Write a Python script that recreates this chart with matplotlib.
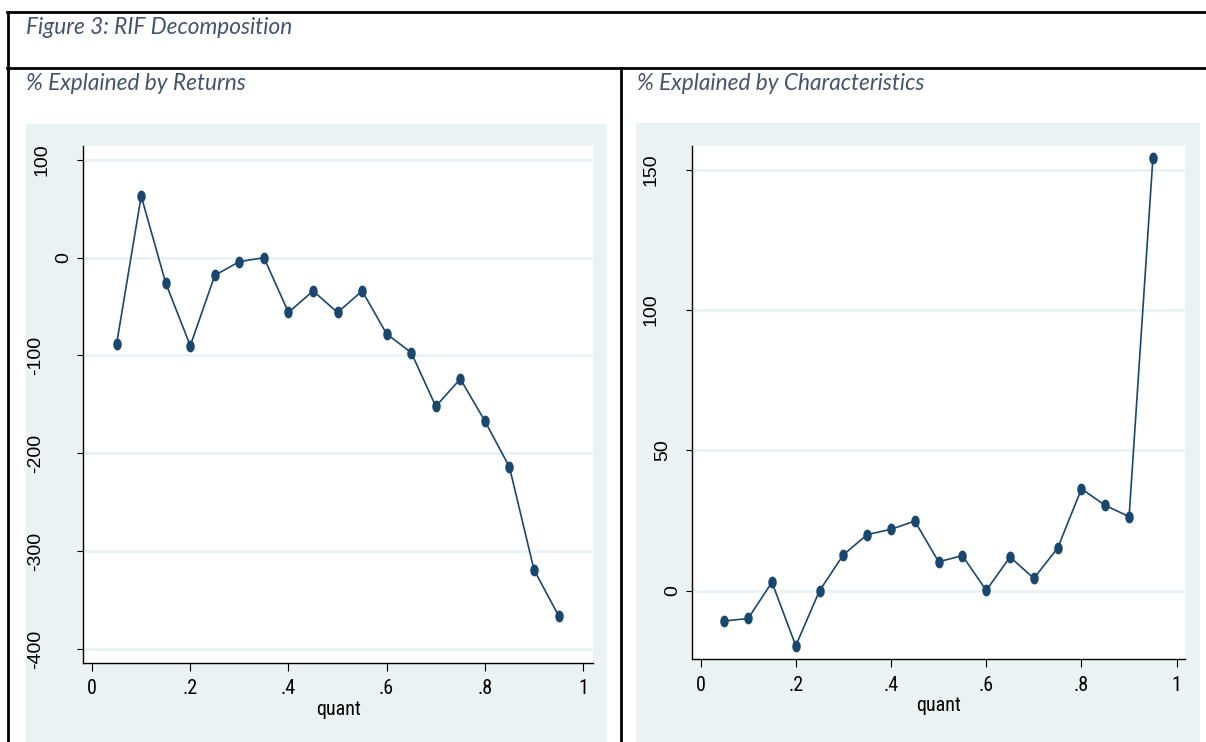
import numpy as np
import matplotlib
matplotlib.use('Agg')
import matplotlib.pyplot as plt
from matplotlib import font_manager
from matplotlib.font_manager import FontProperties
from matplotlib.patches import Rectangle
from matplotlib.lines import Line2D
from matplotlib.transforms import blended_transform_factory

# ---------------- data ----------------
quant = [0.05, 0.10, 0.15, 0.20, 0.25, 0.30, 0.35, 0.40, 0.45, 0.50,
         0.55, 0.60, 0.65, 0.70, 0.75, 0.80, 0.85, 0.90, 0.95]
returns_pct = [-88, 63, -26, -90, -18, -4, 0, -56, -34, -56,
               -34, -78, -97, -152, -124, -167, -214, -319, -366]
chars_pct = [-10.8, -9.9, 3.0, -19.6, 0.0, 12.8, 20.0, 21.9, 24.8, 10.3,
             12.5, 0.1, 12.0, 4.4, 15.2, 36.3, 30.4, 26.4, 154.2]

x_ticks = [0, 0.2, 0.4, 0.6, 0.8, 1.0]
x_ticklabels = ['0', '.2', '.4', '.6', '.8', '1']
left_yticks = [100, 0, -100, -200, -300, -400]
right_yticks = [150, 100, 50, 0]

fig_title = 'Figure 3: RIF Decomposition'
left_title = '% Explained by Returns'
right_title = '% Explained by Characteristics'
x_label = 'quant'

# ---------------- style ----------------
W, H = 1206, 742
NAVY = '#1a476f'
BG = '#eaf2f3'
TXT = '#44546a'

ttf = font_manager.fontManager.ttflist
names = {f.name for f in ttf}
title_font = 'Lato' if 'Lato' in names else 'DejaVu Sans'

# a narrow sans for the x axis texts, if one is installed
narrow_fp = None
for nm in ['Liberation Sans Narrow', 'Arial Narrow', 'Roboto Condensed',
           'DejaVu Sans Condensed', 'Open Sans Condensed']:
    if nm in names:
        narrow_fp = FontProperties(family=nm)
        break
if narrow_fp is None:
    cands = [f for f in ttf if str(f.stretch) in ('condensed', 'semi-condensed', 'extra-condensed')
             and f.style == 'normal' and str(f.weight) in ('400', 'normal', 'regular')
             and 'Sans' in f.name and 'Mono' not in f.name and 'CJK' not in f.name]
    cands.sort(key=lambda f: f.fname)
    if cands:
        narrow_fp = FontProperties(fname=cands[0].fname)
    else:
        narrow_fp = FontProperties(family='Liberation Sans')

fig = plt.figure(figsize=(W / 100, H / 100), dpi=100)
fig.patch.set_facecolor('white')


def fx(x):
    return x / W


def fy(y):
    return 1 - y / H


def rect(x0, y0, x1, y1):
    return [fx(x0), fy(y1), (x1 - x0) / W, (y1 - y0) / H]


def hline(y, x0, x1, lw=2.0):
    fig.add_artist(Line2D([fx(x0), fx(x1)], [fy(y), fy(y)], color='black',
                          lw=lw, transform=fig.transFigure))


def vline(x, y0, y1, lw=2.0):
    fig.add_artist(Line2D([fx(x), fx(x)], [fy(y0), fy(y1)], color='black',
                          lw=lw, transform=fig.transFigure))


# table borders
hline(12, 7, W)
hline(68, 7, W)
vline(8, 12, H)
vline(621, 68, H)

fig.text(fx(26), fy(27), fig_title, fontsize=16.3, style='italic', color=TXT,
         family=title_font, ha='left', va='center')
fig.text(fx(26), fy(84), left_title, fontsize=16.3, style='italic', color=TXT,
         family=title_font, ha='left', va='center')
fig.text(fx(637), fy(84), right_title, fontsize=16.3, style='italic', color=TXT,
         family=title_font, ha='left', va='center')

# graph backgrounds
bg_left = Rectangle((fx(26), fy(H)), (607.5 - 26) / W, (H - 124) / H,
                    transform=fig.transFigure, facecolor=BG, edgecolor='none', zorder=0)
bg_right = Rectangle((fx(636), fy(H)), (1200 - 636) / W, (H - 123) / H,
                     transform=fig.transFigure, facecolor=BG, edgecolor='none', zorder=0)
fig.add_artist(bg_left)
fig.add_artist(bg_right)

t = np.linspace(0, 2 * np.pi, 41)
ell = list(zip(0.68 * np.cos(t), np.sin(t)))

renderer = fig.canvas.get_renderer()


def make_panel(pos, yvals, yticks, xlim, ylim, tick_end_px, bg):
    ax = fig.add_axes(pos)
    ax.set_facecolor('white')
    ax.plot(quant, yvals, color=NAVY, lw=1.2, marker=ell, markersize=7.5,
            markerfacecolor=NAVY, markeredgecolor=NAVY, zorder=3)
    ax.set_xlim(*xlim)
    ax.set_ylim(*ylim)
    ax.set_xticks(x_ticks)
    ax.set_xticklabels(x_ticklabels, fontproperties=narrow_fp, fontsize=14.5)
    ax.set_yticks(yticks)
    ax.set_yticklabels([])
    for y in yticks:
        ax.axhline(y, color=BG, lw=2.0, zorder=1)
    for s in ['top', 'right']:
        ax.spines[s].set_visible(False)
    for s in ['left', 'bottom']:
        ax.spines[s].set_color('black')
        ax.spines[s].set_linewidth(1.0)
    ax.tick_params(axis='x', length=6, width=0.8, pad=6, color='black')
    ax.tick_params(axis='y', length=4.5, width=0.8, color='black')
    xl = ax.set_xlabel(x_label, fontsize=14.5, labelpad=1)
    xl.set_fontproperties(narrow_fp)
    xl.set_fontsize(14.5)
    # Stata-style rotated y labels: shifted left by their own length
    trans = blended_transform_factory(fig.transFigure, ax.transData)
    for v in yticks:
        txt = ax.text(0, v, str(v), rotation=90, ha='center', va='center',
                      family='Liberation Sans', fontsize=14, color='black',
                      transform=trans, clip_on=True)
        length = txt.get_window_extent(renderer).height
        txt.set_x(fx(tick_end_px - length))
        txt.set_clip_path(bg)
    return ax


make_panel(rect(83.3, 146, 593, 662.5), returns_pct, left_yticks,
           (-0.0179, 1.0202), (-413.9, 114.2), 75, bg_left)
make_panel(rect(691.7, 146, 1185, 659.3), chars_pct, right_yticks,
           (-0.0185, 1.0174), (-24.45, 158.5), 684, bg_right)

fig.savefig('out.png', dpi=100, facecolor='white')
